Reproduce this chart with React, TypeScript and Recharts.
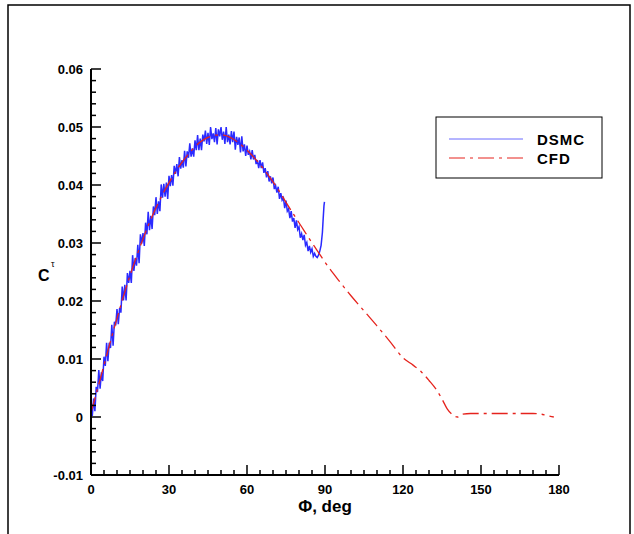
import { LineChart, Line, XAxis, YAxis } from 'recharts';

// axis ticks
const xMajor = [0, 30, 60, 90, 120, 150, 180];
const xLabels = ['0', '30', '60', '90', '120', '150', '180'];
const xTicks = [
  0, 5, 10, 15, 20, 25, 30, 35, 40, 45, 50, 55, 60, 65, 70, 75, 80, 85, 90,
  95, 100, 105, 110, 115, 120, 125, 130, 135, 140, 145, 150, 155, 160, 165, 170, 175, 180,
];
const yMajor = [-0.01, 0, 0.01, 0.02, 0.03, 0.04, 0.05, 0.06];
const yLabels = ['-0.01', '0', '0.01', '0.02', '0.03', '0.04', '0.05', '0.06'];
const yTicks = [
  -0.01, -0.008, -0.006, -0.004, -0.002, 0, 0.002, 0.004, 0.006, 0.008, 0.01, 0.012, 0.014,
  0.016, 0.018, 0.02, 0.022, 0.024, 0.026, 0.028, 0.03, 0.032, 0.034, 0.036, 0.038, 0.04,
  0.042, 0.044, 0.046, 0.048, 0.05, 0.052, 0.054, 0.056, 0.058, 0.06,
];

// CFD (smooth, dash-dot)
const cfdPhi = [
  0, 2, 4, 6, 8, 10, 12, 14, 16, 18, 20, 22, 24, 26, 28, 30, 33, 36, 39, 42, 45, 48, 51, 54,
  57, 60, 63, 66, 69, 72, 75, 78, 81, 84, 87, 90, 95, 100, 105, 110, 115, 120, 124, 127, 130,
  133, 135, 137, 139, 141, 143, 146, 150, 155, 160, 165, 170, 173, 175, 178,
];
const cfdCt = [
  0.0008, 0.004, 0.0073, 0.0106, 0.0139, 0.017, 0.0201, 0.023, 0.0257, 0.0283, 0.0307, 0.033,
  0.0351, 0.037, 0.0388, 0.0404, 0.0426, 0.0445, 0.0461, 0.0474, 0.0482, 0.0486, 0.0486, 0.0481,
  0.0472, 0.046, 0.0446, 0.043, 0.0412, 0.0392, 0.037, 0.0349, 0.0328, 0.0307, 0.0287, 0.0267,
  0.0237, 0.0209, 0.0183, 0.0157, 0.013, 0.0102, 0.0089, 0.0078, 0.0063, 0.0046, 0.0031, 0.0014,
  0.0004, 0.0, 0.0005, 0.0006, 0.0006, 0.0006, 0.0006, 0.0006, 0.0006, 0.0005, 0.0003, 0.0,
];

// DSMC (noisy), [phi, Ct]
const dsmcPoints: [number, number][] = [
  [0, 0.0026], [0.5, 0.0002], [1, 0.0032], [1.5, 0.001], [2, 0.0052], [2.5, 0.0043],
  [3, 0.0081], [3.5, 0.0049], [4, 0.0077], [4.5, 0.0062], [5, 0.0104], [5.5, 0.0088],
  [6, 0.0128], [6.5, 0.0096], [7, 0.0128], [7.5, 0.0119], [8, 0.0159], [8.5, 0.0123],
  [9, 0.0164], [9.5, 0.0158], [10, 0.0186], [10.5, 0.016], [11, 0.0188], [11.5, 0.018],
  [12, 0.0225], [12.5, 0.0201], [13, 0.0228], [13.5, 0.0201], [14, 0.0248], [14.5, 0.0231],
  [15, 0.0252], [15.5, 0.0231], [16, 0.0279], [16.5, 0.0252], [17, 0.0274], [17.5, 0.0261],
  [18, 0.0297], [18.5, 0.0265], [19, 0.0315], [19.5, 0.0299], [20, 0.0317], [20.5, 0.0295],
  [21, 0.0335], [21.5, 0.0315], [22, 0.0354], [22.5, 0.0322], [23, 0.0347], [23.5, 0.0324],
  [24, 0.0363], [24.5, 0.0348], [25, 0.0379], [25.5, 0.035], [26, 0.0372], [26.5, 0.0355],
  [27, 0.0401], [27.5, 0.0378], [28, 0.0402], [28.5, 0.038], [29, 0.0404], [29.5, 0.0376],
  [30, 0.0416], [30.5, 0.0398], [31, 0.0417], [31.5, 0.0399], [32, 0.0433], [32.5, 0.0419],
  [33, 0.0436], [33.5, 0.0415], [34, 0.0448], [34.5, 0.0428], [35, 0.0443], [35.5, 0.043],
  [36, 0.0459], [36.5, 0.0432], [37, 0.0458], [37.5, 0.0447], [38, 0.0472], [38.5, 0.0449],
  [39, 0.0463], [39.5, 0.0449], [40, 0.0477], [40.5, 0.046], [41, 0.0486], [41.5, 0.046],
  [42, 0.048], [42.5, 0.046], [43, 0.0487], [43.5, 0.0475], [44, 0.0494], [44.5, 0.0471],
  [45, 0.049], [45.5, 0.0469], [46, 0.05], [46.5, 0.0479], [47, 0.0489], [47.5, 0.0474],
  [48, 0.0498], [48.5, 0.047], [49, 0.0496], [49.5, 0.0484], [50, 0.05], [50.5, 0.0478],
  [51, 0.0492], [51.5, 0.0471], [52, 0.05], [52.5, 0.0474], [53, 0.0487], [53.5, 0.047],
  [54, 0.0493], [54.5, 0.0474], [55, 0.0492], [55.5, 0.0461], [56, 0.0483], [56.5, 0.0469],
  [57, 0.0482], [57.5, 0.0456], [58, 0.0484], [58.5, 0.0458], [59, 0.047], [59.5, 0.045],
  [60, 0.0468], [60.5, 0.0452], [61, 0.0458], [61.5, 0.0444], [62, 0.046], [62.5, 0.0444],
  [63, 0.0452], [63.5, 0.0436], [64, 0.0443], [64.5, 0.0429], [65, 0.0443], [65.5, 0.0429],
  [66, 0.0439], [66.5, 0.0421], [67, 0.0429], [67.5, 0.0413], [68, 0.0424], [68.5, 0.0406],
  [69, 0.0415], [69.5, 0.0403], [70, 0.0413], [70.5, 0.0393], [71, 0.0399], [71.5, 0.0387],
  [72, 0.0397], [72.5, 0.0376], [73, 0.0386], [73.5, 0.0374], [74, 0.0378], [74.5, 0.036],
  [75, 0.0373], [75.5, 0.0355], [76, 0.0359], [76.5, 0.0343], [77, 0.0355], [77.5, 0.0337],
  [78, 0.0343], [78.5, 0.0326], [79, 0.0339], [79.5, 0.0323], [80, 0.0328], [80.5, 0.0309],
  [81, 0.0316], [81.5, 0.0305], [82, 0.0314], [82.5, 0.0296], [83, 0.0301], [83.5, 0.0286],
  [84, 0.0295], [84.5, 0.0284], [85, 0.029], [85.5, 0.0277], [86, 0.0282], [86.5, 0.0277],
  [87, 0.0275], [87.5, 0.0279], [88, 0.0286], [88.5, 0.0296], [89, 0.0318], [89.3, 0.0342],
  [89.6, 0.0364], [89.8, 0.0371],
];

const cfdData = cfdPhi.map((phi, i) => ({ phi, ct: cfdCt[i] }));
const dsmcData = dsmcPoints.map(([phi, ct]) => ({ phi, ct }));

const FONT = '"Liberation Sans", Arial, Helvetica, sans-serif';
const BLUE = '#2a2aff';
const RED = '#e5231d';

const XTick = ({ x, y, payload }: any) => {
  const i = xMajor.indexOf(payload.value);
  const major = i >= 0;
  return (
    <g>
      <line x1={x} x2={x} y1={y} y2={y - (major ? 10 : 5)} stroke="#000" strokeWidth={1.5} />
      {major && (
        <text x={x} y={y + 19} textAnchor="middle" fontSize={13} fontWeight="bold" fill="#000" fontFamily={FONT}>
          {xLabels[i]}
        </text>
      )}
    </g>
  );
};

const YTick = ({ x, y, payload }: any) => {
  const i = yMajor.indexOf(payload.value);
  const major = i >= 0;
  return (
    <g>
      <line x1={x} x2={x + (major ? 10 : 5)} y1={y} y2={y} stroke="#000" strokeWidth={1.5} />
      {major && (
        <text x={x - 8} y={y + 5} textAnchor="end" fontSize={13} fontWeight="bold" fill="#000" fontFamily={FONT}>
          {yLabels[i]}
        </text>
      )}
    </g>
  );
};

export default function App() {
  return (
    <div style={{ position: 'absolute', left: 0, top: 0, width: 634, height: 534, background: '#fff', overflow: 'hidden', fontFamily: FONT }}>
      <LineChart width={634} height={534} margin={{ top: 69, right: 75, bottom: 29, left: 31 }}>
        <XAxis
          type="number"
          dataKey="phi"
          domain={[0, 180]}
          ticks={xTicks}
          interval={0}
          tick={XTick}
          tickLine={false}
          tickSize={0}
          tickMargin={0}
          height={30}
          axisLine={{ stroke: '#000', strokeWidth: 2 }}
        />
        <YAxis
          type="number"
          domain={[-0.01, 0.06]}
          ticks={yTicks}
          interval={0}
          tick={YTick}
          tickLine={false}
          tickSize={0}
          tickMargin={0}
          width={60}
          axisLine={{ stroke: '#000', strokeWidth: 2 }}
        />
        <Line
          data={dsmcData}
          dataKey="ct"
          type="linear"
          stroke={BLUE}
          strokeWidth={1.5}
          dot={false}
          isAnimationActive={false}
        />
        <Line
          data={cfdData}
          dataKey="ct"
          type="monotone"
          stroke={RED}
          strokeWidth={1.3}
          strokeDasharray="16 5 3 5"
          dot={false}
          isAnimationActive={false}
        />
      </LineChart>
      <svg width={634} height={534} style={{ position: 'absolute', left: 0, top: 0, pointerEvents: 'none' }}>
        {/* outer frame */}
        <polyline points="8,540 8,5 630,5 630,540" fill="none" stroke="#000" strokeWidth={1.5} />
        {/* axis titles */}
        <text x={38} y={281} fontSize={16} fontWeight="bold" fontFamily={FONT} fill="#000">C</text>
        <text x={51} y={267} fontSize={9} fontFamily={FONT} fill="#000">τ</text>
        <text x={325} y={512} textAnchor="middle" fontSize={17} fontWeight="bold" fontFamily={FONT} fill="#000">
          Φ, deg
        </text>
        {/* legend */}
        <rect x={436} y={117} width={166} height={61} fill="#fff" stroke="#000" strokeWidth={1} />
        <line x1={449} x2={523} y1={139} y2={139} stroke="#6a6aff" strokeWidth={1} />
        <line x1={449} x2={523} y1={158} y2={158} stroke={RED} strokeWidth={1} strokeDasharray="16 5 3 5" />
        <text x={537} y={145} fontSize={15} fontWeight="bold" letterSpacing={1} fontFamily={FONT} fill="#000">DSMC</text>
        <text x={537} y={164} fontSize={15} fontWeight="bold" letterSpacing={1} fontFamily={FONT} fill="#000">CFD</text>
      </svg>
    </div>
  );
}
